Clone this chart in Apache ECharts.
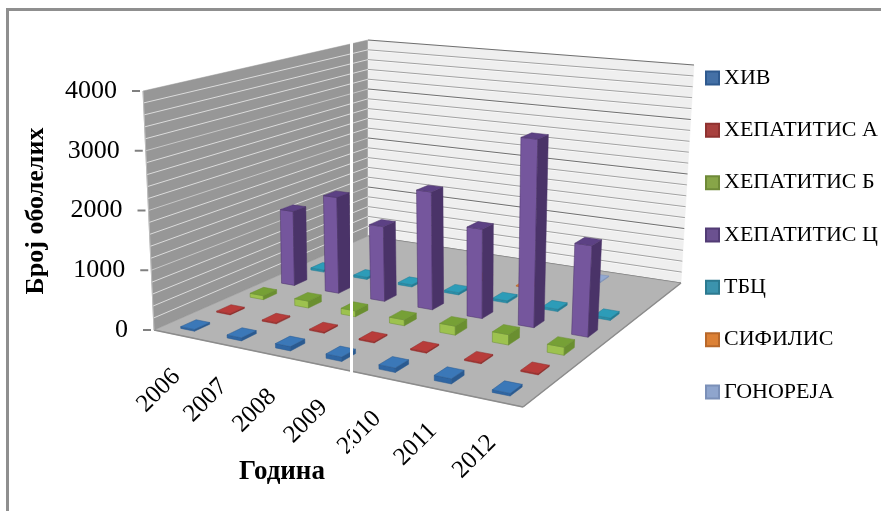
<!DOCTYPE html>
<html>
<head>
<meta charset="utf-8">
<style>
	html, body { margin: 0; padding: 0; background: #fff; }
	#chart { width: 881px; height: 511px; }
</style>
<script src="https://cdn.jsdelivr.net/npm/echarts@6/dist/echarts.min.js"></script>
</head>
<body>
<div id="chart"></div>
<script>
// 데이터
let years = ['2006', '2007', '2008', '2009', '2010', '2011', '2012'];
let yTicks = [0, 1000, 2000, 3000, 4000];
let diseaseNames = ['ХИВ', 'ХЕПАТИТИС А', 'ХЕПАТИТИС Б', 'ХЕПАТИТИС Ц', 'ТБЦ', 'СИФИЛИС', 'ГОНОРЕЈА'];
let hivValues = [30, 50, 70, 70, 70, 80, 40];
let hepAValues = [20, 20, 20, 20, 20, 20, 20];
let hepBValues = [70, 120, 100, 100, 150, 170, 130];
let hepCValues = [1350, 1720, 1320, 2050, 1530, 3180, 1520];
let tbcValues = [40, 40, 40, 40, 40, 40, 40];
let syphilisValues = [null, null, null, 15, 15, null, null];
let gonorrheaValues = [null, null, null, null, null, 15, null];
let allValues = [hivValues, hepAValues, hepBValues, hepCValues, tbcValues, syphilisValues, gonorrheaValues];

// 색상 [윗면, 왼쪽면, 오른쪽면]
let barColors = [
	['#3b78b8', '#2f66a3', '#2a5a90'],
	['#b83c3a', '#a83432', '#8f2c2a'],
	['#76a036', '#9dc24f', '#6a8f30'],
	['#5c4184', '#75569d', '#4a3368'],
	['#2d9cb8', '#2a8ea8', '#247c94'],
	['#e0823a', '#d57530', '#b8642a'],
	['#93a9d2', '#8aa0c9', '#7b90b8']
];
let legendColors = ['#4470a6', '#a8403e', '#87a548', '#6b5190', '#3b93ad', '#dc8136', '#8fa5cd'];
let legendBorders = ['#2f5a8f', '#8f3230', '#6f8a38', '#523c75', '#2c7a90', '#b8682a', '#7b90b8'];

// 바닥과 윗면의 네 꼭지점 (앞왼쪽, 앞오른쪽, 뒤오른쪽, 뒤왼쪽)
let floorQuad = [[154, 330], [523, 407], [681, 283], [368, 236]];
let topQuad = [[143, 91], [530, 140], [694, 65], [368, 40]];
let plotW = 700, plotH = 400;
let yMax = 4000;
let barU = 0.30, barV = 0.42;	// 칸 대비 막대 크기

function quadMap(q){
	let x0 = q[0][0], y0 = q[0][1], x1 = q[1][0], y1 = q[1][1];
	let x2 = q[2][0], y2 = q[2][1], x3 = q[3][0], y3 = q[3][1];
	let dx1 = x1 - x2, dx2 = x3 - x2, sx = x0 - x1 + x2 - x3;
	let dy1 = y1 - y2, dy2 = y3 - y2, sy = y0 - y1 + y2 - y3;
	let den = dx1 * dy2 - dx2 * dy1;
	let g = (sx * dy2 - dx2 * sy) / den;
	let h = (dx1 * sy - sx * dy1) / den;
	let a = x1 - x0 + g * x1, b = x3 - x0 + h * x3;
	let d = y1 - y0 + g * y1, e = y3 - y0 + h * y3;
	return function(s, t){
		let w = g * s + h * t + 1;
		return [(a * s + b * t + x0) / w, (d * s + e * t + y0) / w];
	};
}
let floorMap = quadMap(floorQuad);
let topMap = quadMap(topQuad);

// s: 연도 방향, t: 깊이 방향, z: 높이 (0~1)
function project(s, t, z){
	let p0 = floorMap(s, t);
	let p1 = topMap(s, t);
	return [p0[0] + (p1[0] - p0[0]) * z, p0[1] + (p1[1] - p0[1]) * z];
}

function poly(points, fill, stroke){
	return {
		type: 'polygon',
		shape: { points: points },
		style: { fill: fill, stroke: stroke || fill, lineWidth: 0.5 }
	};
}
function line(a, b, color, width){
	return {
		type: 'line',
		shape: { x1: a[0], y1: a[1], x2: b[0], y2: b[1] },
		style: { stroke: color, lineWidth: width }
	};
}

// 벽, 바닥, 눈금을 그리는 함수
function renderFrame(params, api){
	let items = [];
	items.push(poly([project(0, 0, 0), project(0, 1, 0), project(0, 1, 1), project(0, 0, 1)], '#979797'));
	items.push(poly([project(0, 1, 0), project(1, 1, 0), project(1, 1, 1), project(0, 1, 1)], '#efefef'));

	for(let v = 0; v <= yMax; v += 200){
		let z = v / yMax;
		let major = v % 1000 == 0;
		if(v > 0 && v < yMax){
			items.push(line(project(0, 0, z), project(0, 1, z), major ? '#c8c8c8' : '#dcdcdc', 1));
			items.push(line(project(0, 1, z - 0.004), project(1, 1, z - 0.004), '#fbfbfb', 1));
		}
		items.push(line(project(0, 1, z), project(1, 1, z), major ? '#6f6f6f' : '#a2a2a2', major ? 1.2 : 1));
	}

	items.push(poly([project(0, 0, 0), project(1, 0, 0), project(1, 1, 0), project(0, 1, 0)], '#b4b4b4', '#8c8c8c'));
	items.push(line(project(0, 0, 0), project(1, 0, 0), '#8c8c8c', 1.5));
	items.push(line(project(1, 0, 0), project(1, 1, 0), '#8c8c8c', 1.5));
	items.push(line(project(0, 0, 0), project(0, 0, 1), '#bdbdbd', 1));

	yTicks.forEach(function(tick){
		let p = project(0, 0, tick / yMax);
		items.push(line([p[0] - 11, p[1]], [p[0] - 3, p[1]], '#808080', 2));
		items.push({
			type: 'text',
			style: {
				text: String(tick), x: p[0] - 26, y: p[1], align: 'right', verticalAlign: 'middle',
				font: '26px "Liberation Serif"', fill: '#000'
			}
		});
	});

	years.forEach(function(year, i){
		let p = project((i + 0.5) / years.length, 0, 0);
		items.push({
			type: 'text',
			x: p[0] - 18, y: p[1] + 56,
			rotation: 45 * Math.PI / 180,
			style: {
				text: year, x: 0, y: 0, align: 'center', verticalAlign: 'middle',
				font: '25px "Liberation Serif"', fill: '#000'
			}
		});
	});
	return { type: 'group', children: items };
}

// 막대 하나를 그리는 함수
function makeBarRender(row){
	return function(params, api){
		if(isNaN(api.value(1))){
			return null;
		}
		let c = api.coord([api.value(0), api.value(1)]);
		let band = api.size([1, 0])[0];
		let s = c[0] / plotW;
		let z = (plotH - c[1]) / plotH;
		let t = (row + 0.5) / diseaseNames.length;
		let ds = band / plotW * barU / 2;
		let dt = barV / diseaseNames.length / 2;
		let col = barColors[row];
		let a0 = project(s - ds, t - dt, 0), b0 = project(s + ds, t - dt, 0), c0 = project(s + ds, t + dt, 0);
		let a1 = project(s - ds, t - dt, z), b1 = project(s + ds, t - dt, z);
		let c1 = project(s + ds, t + dt, z), d1 = project(s - ds, t + dt, z);
		return {
			type: 'group',
			children: [
				poly([a0, b0, b1, a1], col[1], col[2]),
				poly([b0, c0, c1, b1], col[2]),
				poly([a1, b1, c1, d1], col[0], col[2])
			]
		};
	};
}

let seriesList = [{
	type: 'custom',
	name: 'frame',
	coordinateSystem: 'none',
	z: 1,
	silent: true,
	data: [[0]],
	renderItem: renderFrame
}];
diseaseNames.forEach(function(name, row){
	seriesList.push({
		type: 'custom',
		name: name,
		coordinateSystem: 'cartesian2d',
		z: 10 - row,
		clip: false,
		silent: true,
		itemStyle: { color: legendColors[row], borderColor: legendBorders[row], borderWidth: 1 },
		encode: { x: 0, y: 1 },
		data: years.map(function(year, i){ return [year, allValues[row][i]]; }),
		renderItem: makeBarRender(row)
	});
});

let myChart = echarts.init(document.getElementById('chart'), null, { renderer: 'canvas' });
let option = {
	backgroundColor: '#fff',
	animation: false,
	// 투영 전 좌표를 얻기 위한 숨은 축
	grid: { left: 0, top: 0, width: plotW, height: plotH, show: false },
	xAxis: { type: 'category', data: years, show: false },
	yAxis: { type: 'value', min: 0, max: yMax, show: false },
	legend: {
		data: diseaseNames,
		orient: 'vertical',
		left: 705,
		top: 67,
		padding: 0,
		itemWidth: 13,
		itemHeight: 13,
		itemGap: 30.33,
		icon: 'rect',
		selectedMode: false,
		textStyle: { fontFamily: 'Liberation Serif', fontSize: 22, color: '#000', lineHeight: 22 }
	},
	graphic: { elements: [
		{ type: 'rect', z: 0, shape: { x: 6, y: 8, width: 875, height: 3 }, style: { fill: '#8f8f8f' } },
		{ type: 'rect', z: 0, shape: { x: 6, y: 8, width: 3, height: 503 }, style: { fill: '#8f8f8f' } },
		{ type: 'text', z: 50, x: 36, y: 211, rotation: Math.PI / 2,
			style: { text: 'Број оболелих', align: 'center', verticalAlign: 'middle',
				font: 'bold 26px "Liberation Serif"', fill: '#000' } },
		{ type: 'text', z: 50, x: 282, y: 472,
			style: { text: 'Година', align: 'center', verticalAlign: 'middle',
				font: 'bold 27px "Liberation Serif"', fill: '#000' } },
		{ type: 'rect', z: 100, shape: { x: 350, y: 12, width: 3, height: 445 }, style: { fill: '#fff' } }
	] },
	series: seriesList
};
myChart.setOption(option);
</script>
</body>
</html>
